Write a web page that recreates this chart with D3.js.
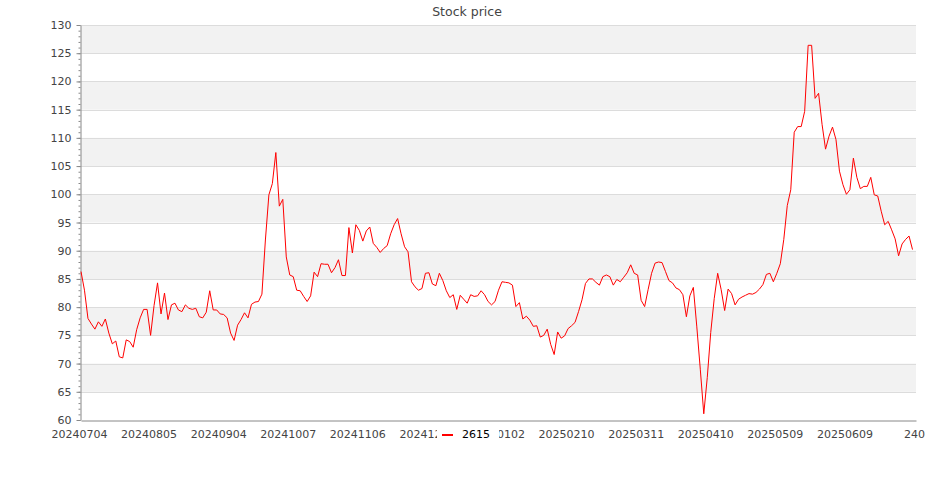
<!DOCTYPE html>
<html><head><meta charset="utf-8">
<script src="https://cdn.jsdelivr.net/npm/d3@7"></script>
<style>body{margin:0;background:#fff;} svg{display:block;font-family:"DejaVu Sans",sans-serif;}</style>
</head><body><svg id="c" width="935" height="500"></svg>
<script>
const title = "Stock price";
const seriesName = "2615";
const prices = [
86.3,83.0,78.0,77.0,76.1,77.4,76.6,77.9,75.4,73.5,
74.0,71.2,71.0,74.2,73.9,72.9,76.0,78.1,79.6,79.6,
75.0,80.3,84.3,78.8,82.5,77.8,80.4,80.7,79.5,79.2,
80.4,79.8,79.6,79.8,78.3,78.1,79.1,82.9,79.5,79.5,
78.8,78.7,78.1,75.4,74.1,76.8,77.8,79.0,78.1,80.5,
80.9,81.0,82.3,91.9,99.9,101.9,107.4,97.9,99.1,88.9,
85.7,85.4,83.0,82.9,81.9,81.0,82.0,86.2,85.4,87.7,
87.6,87.6,86.1,87.0,88.4,85.6,85.6,94.1,89.6,94.6,
93.6,91.7,93.5,94.2,91.3,90.6,89.7,90.4,90.9,93.0,
94.6,95.7,93.0,90.7,89.8,84.5,83.6,83.0,83.3,86.0,
86.1,84.1,83.8,86.0,84.7,82.9,81.7,82.2,79.6,82.1,
81.4,80.7,82.2,81.9,82.0,82.9,82.2,81.0,80.4,81.0,
83.0,84.5,84.4,84.3,83.9,80.1,80.8,77.9,78.4,77.7,
76.6,76.7,74.7,75.0,76.1,73.4,71.6,75.6,74.5,74.9,
76.2,76.7,77.3,79.2,81.3,84.2,85.0,85.0,84.4,83.9,
85.4,85.7,85.4,83.9,84.9,84.5,85.3,86.1,87.5,86.0,
85.7,81.2,80.1,83.1,86.0,87.8,88.0,87.9,86.3,84.7,
84.3,83.4,83.1,82.2,78.3,82.0,83.5,76.5,69.0,61.1,
67.5,75.5,81.5,86.0,83.1,79.4,83.2,82.4,80.4,81.4,
81.8,82.1,82.4,82.3,82.6,83.2,84.0,85.8,86.0,84.5,
86.0,87.7,92.0,98.0,100.8,111.0,112.0,112.0,114.7,126.4,
126.4,117.0,117.9,112.4,108.0,110.3,111.9,109.7,104.1,101.7,
100.0,100.8,106.4,103.0,101.0,101.4,101.4,103.0,99.9,99.7,
97.0,94.6,95.2,93.7,92.1,89.1,91.2,92.0,92.6,90.2
];
const xTickIndex = [0,20,40,60,80,100,120,140,160,180,200,220,240];
// labels as visible in the reference (two are partly hidden behind the legend)
const xTickLabels = ["20240704","20240805","20240904","20241007","20241106","202412","0102","20250210","20250311","20250410","20250509","20250609","240"];
const yTicks = [60,65,70,75,80,85,90,95,100,105,110,115,120,125,130];

const svg = d3.select("#c");
const L = 81, R = 916, T = 25, B = 420;
const x = d3.scaleLinear().domain([0, 240]).range([L, R]);
const y = d3.scaleLinear().domain([60, 130]).range([B, T]);
const crisp = v => Math.round(v) + 0.5;

// alternating bands
const bands = yTicks.slice(0, -1).filter(v => ((130 - (v + 5)) / 5) % 2 === 0);
svg.append("g").selectAll("rect").data(bands).join("rect")
  .attr("x", L).attr("width", R - L)
  .attr("y", d => y(d + 5)).attr("height", d => y(d) - y(d + 5))
  .attr("fill", "#f2f2f2");

// gridlines
svg.append("g").selectAll("line").data(yTicks.slice(1)).join("line")
  .attr("x1", L).attr("x2", R)
  .attr("y1", d => crisp(y(d))).attr("y2", d => crisp(y(d)))
  .attr("stroke", "#dcdcdc").attr("stroke-width", 1);

// title
svg.append("text").attr("x", 467).attr("y", 16).attr("text-anchor", "middle")
  .attr("font-size", 12.5).attr("fill", "#444").text(title);

// y axis
const yAxis = svg.append("g").attr("transform", "translate(80.5,0)")
  .call(d3.axisLeft(y).tickValues(yTicks).tickSize(4).tickSizeOuter(0).tickPadding(5));
yAxis.select(".domain").attr("stroke", "#888");
yAxis.selectAll(".tick line").attr("stroke", "#888");
yAxis.selectAll("text").attr("font-size", 11).attr("fill", "#444").attr("font-family", "DejaVu Sans");
const yMinor = svg.append("g").attr("transform", "translate(80.5,0)")
  .call(d3.axisLeft(y).tickValues(d3.range(60, 131, 1)).tickSize(2).tickSizeOuter(0).tickFormat(""));
yMinor.select(".domain").remove();
yMinor.selectAll(".tick line").attr("stroke", "#888");

// x axis
const xAxis = svg.append("g").attr("transform", "translate(0,420.5)")
  .call(d3.axisBottom(x).tickValues(xTickIndex).tickSize(0).tickSizeOuter(0).tickPadding(10)
    .tickFormat((d, i) => xTickLabels[i]));
xAxis.select(".domain").attr("stroke", "#888");
xAxis.selectAll("text").attr("font-size", 11).attr("fill", "#444").attr("dx", -2).attr("font-family", "DejaVu Sans")
  .each(function(d, i) {
    if (i === 5) d3.select(this).attr("text-anchor", "start").attr("dx", -30);
    if (i === 6) d3.select(this).attr("text-anchor", "end").attr("dx", 26);
  });

// line
const line = d3.line().x((d, i) => x(i)).y(d => y(d));
svg.append("path").datum(prices).attr("d", line)
  .attr("fill", "none").attr("stroke", "#ff0000").attr("stroke-width", 1);

// legend
const lg = svg.append("g");
lg.append("rect").attr("x", 437).attr("y", 425).attr("width", 62).attr("height", 19).attr("fill", "#fff");
lg.append("line").attr("x1", 442).attr("x2", 453).attr("y1", 435).attr("y2", 435)
  .attr("stroke", "#ff0000").attr("stroke-width", 2);
lg.append("text").attr("x", 462).attr("y", 437.5).attr("font-size", 11).attr("fill", "#000").text(seriesName);
</script>
</body></html>
